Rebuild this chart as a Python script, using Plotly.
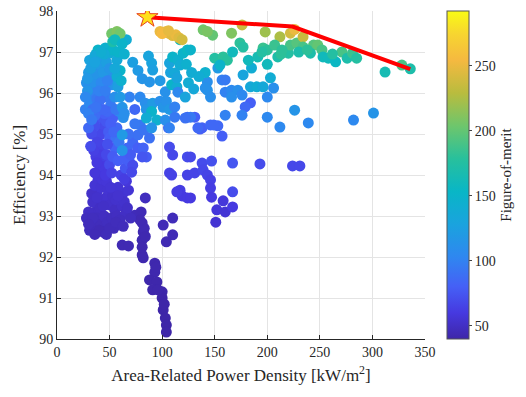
import plotly.graph_objects as go

# ---- data: (power density kW/m^2, efficiency %, figure-of-merit) ----
left_upper = [(39,97.05,150),(46,97.1,145),(50,96.97,140),(53,97.05,150),(36,96.9,135),(43,96.85,130),
              (34,96.65,125),(40,96.7,120),(47,96.75,125),(33,96.4,120),(38,96.45,115),(44,96.5,118),
              (31,96.15,110),(36,96.2,112),(42,96.25,105),(30,95.95,110),(35,96.0,100),(31,95.75,105),
              (38,95.85,95),(34,95.6,90),(41,95.83,90),(44,95.6,85),(29,96.05,115),(32,96.6,125),
              (48,96.3,100),(50,96.6,115),(27,95.9,105),(30,95.5,100),(33,95.35,95),(36,96.75,128),
              (45,96.95,138),(42,97.0,142),(29,96.35,118),(40,96.05,100),(46,96.05,98),(37,95.65,92)]
left_fill = [(31,96.8,128),(35,96.55,122),(39,96.3,112),(43,96.1,100),(47,95.9,95),(51,95.7,95),
             (55,95.9,110),(52,96.2,112),(55,96.35,125),(49,96.45,110),(45,96.35,108),(37,96.95,140),
             (41,96.55,118),(33,96.25,115),(28,96.25,112),(30,96.5,120),(27,95.6,100),(32,95.85,100),
             (36,95.45,88),(40,95.6,88),(48,95.55,85),(51,95.25,80),(54,95.05,85),(59,94.8,95),
             (59,95.55,105),(56,95.6,95)]
cyan_column = [(52,97.45,205),(57,97.5,210),(60,97.45,205),(53,97.25,170),(57,96.8,135),(60,96.55,150),
               (57,96.4,140),(58,96.15,125),(60,95.9,120),(62,95.65,115),(63,95.4,110),(62,94.98,120),
               (62,94.6,115),(58,97.0,150),(55,96.6,135),(61,96.3,145),(64,95.5,110),(55,97.3,160),
               (62,97.2,150),(64,96.95,145)]
mid_upper = [(66,97.3,140),(72,96.75,125),(77,96.55,120),(81,96.35,115),(87,96.9,130),(90,96.73,128),
             (91,96.56,125),(98,96.3,118),(88,96.27,115),(103,96.03,112),(107,96.73,130),(108,96.5,128),
             (109,96.2,150),(114,96.15,140),(79,95.9,105),(84,95.75,110),(85,95.6,115),(91,95.75,120),
             (98,95.8,110),(101,95.65,115),(104,95.8,112),(107,95.6,118),(90,95.55,150),(74,95.6,85),
             (69,95.9,100),(85,95.39,140),(95,95.34,145),(103,95.34,110),(107,95.15,100),(90,95.15,115),
             (110,96.88,150),(115,96.8,145),(117,96.68,140),(112,96.49,135),(120,96.97,150),(124,97.05,155),
             (127,97.05,150),(114,96.37,130),(115,96.02,105),(112,95.66,100),(112,95.41,95),(117,97.3,160),
             (123,96.7,145),(128,96.5,140),(125,96.25,140),(130,96.1,135),(122,95.9,130),(135,96.4,140)]
orange_group = [(98,97.5,250),(101,97.48,252),(104,97.5,250),(107,97.45,248),(110,97.4,245),(113,97.42,250),
                (116,97.35,245),(119,97.3,240),(100,97.45,255),(106,97.52,248)]
left_lower = [(41,95.39,75),(43,95.15,70),(41,94.98,68),(44,94.73,65),(41,94.49,62),(44,94.2,60),
              (36,95.2,72),(33,95.0,70),(38,94.8,66),(35,94.6,64),(38,94.3,60),(36,94.05,58),
              (47,95.3,75),(49,95.05,78),(53,95.39,80),(57,95.15,85),(50,94.9,80),(55,94.66,82),
              (47,94.5,68),(50,94.25,70),(53,94.45,78),(56,94.9,90),(45,95.5,80),(30,95.15,85),
              (32,94.7,70),(46,94.0,60),(52,94.05,65),(58,94.35,80),(48,94.75,72)]
lower_fill = [(37,94.45,62),(42,94.65,65),(45,94.35,64),(40,94.1,60),(43,93.9,57),(47,93.85,57),
              (51,93.7,56),(56,93.4,53),(44,93.25,51),(38,93.45,53),(34,92.95,48),(50,92.7,46),
              (56,92.85,47),(64,93.35,53),(67,93.2,51),(63,92.75,47),(30,92.8,47),(36,92.55,45),
              (58,93.5,54),(61,94.0,65),(64,93.9,62)]
mid_lower = [(65,94.17,75),(69,94.32,80),(67,94.66,85),(72,94.8,85),(77,94.98,90),(79,95.22,95),
             (77,94.66,80),(82,94.66,82),(85,94.44,78),(81,94.44,75),(88,94.9,90),(72,94.24,70),
             (71,94.07,68),(68,95.0,90),(74,95.25,95),(83,95.1,92),(64,94.4,80),(70,94.5,78)]
bottom_left = [(39,93.88,58),(38,93.59,55),(39,93.34,52),(36,93.1,50),(34,93.34,52),(46,93.44,54),
               (41,93.2,50),(50,93.27,52),(63,93.56,55),(68,93.63,56),(60,93.34,52),(55,93.15,50),
               (32,92.9,48),(35,92.75,47),(31,92.65,46),(38,92.95,48),(42,92.8,47),(45,93.0,49),
               (48,92.85,48),(52,92.95,48),(57,93.0,49),(44,92.61,45),(33,93.55,52),(30,93.1,50),
               (36,93.75,56),(42,93.7,55),(48,93.65,55),(53,93.5,53),(58,93.7,56),(62,93.25,52),
               (65,93.05,50),(60,92.9,48),(54,92.7,46),(40,92.65,45),(28,92.95,48),(62,92.29,44),
               (68,92.27,44),(47,92.55,46),(70,92.95,48),(66,93.85,58)]
tail = [(84,93.44,48),(74,93.02,46),(81,92.83,44),(82,92.61,43),(81,92.41,43),(81,92.24,42),
        (81,92.05,42),(82,91.98,42),(83,92.7,44),(80,93.1,45),(84,92.5,43),(93,91.85,42),
        (93,91.63,42),(88,91.44,41),(95,91.39,41),(91,91.2,41),(100,91.15,41),(100,91.0,40),
        (101,90.71,40),(103,90.51,40),(104,90.34,40),(104,90.17,40),(94,91.75,42),(96,91.2,41),
        (102,90.85,40),(101,92.78,45),(110,92.95,46),(110,92.54,45),(104,92.37,44),(79,92.9,44)]
right_low = [(107,94.68,70),(110,94.49,68),(124,94.44,70),(107,94.05,65),(124,94.0,65),(131,94.05,66),
             (138,94.29,70),(117,93.63,62),(119,93.49,60),(124,93.44,60),(106,95.15,85),(124,95.41,85),
             (131,95.41,80),(138,95.15,82),(136,95.12,80),(146,95.22,85),(153,95.2,85),(157,94.95,80),
             (147,94.34,72),(167,94.29,75),(193,94.27,70),(224,94.22,68),(231,94.22,68),(139,94.12,68),
             (143,94.0,66),(146,93.88,64),(146,93.68,62),(167,93.59,70),(147,93.46,60),(158,93.37,58),
             (152,93.15,58),(160,93.1,56),(167,93.22,60),(151,92.85,55),(127,94.44,68),(127,93.44,60),
             (114,93.59,62),(109,94.0,65)]
right_mid = [(153,96.61,120),(143,96.27,110),(143,96.07,115),(141,96.12,112),(157,96.32,100),(160,96.32,95),
             (146,95.9,110),(160,96.02,100),(166,96.07,105),(172,96.07,110),(177,96.44,130),(185,96.61,140),
             (184,96.15,135),(190,96.15,140),(196,96.15,135),(203,96.37,140),(206,96.12,110),(176,95.95,105),
             (166,95.9,110),(200,95.9,105),(184,95.76,80),(179,95.66,85),(160,95.46,100),(176,95.46,100),
             (200,95.41,105),(226,95.58,115),(212,95.17,105),(239,95.27,105),(282,95.34,105),(301,95.51,115),
             (149,95.22,85),(127,95.41,95),(122,95.39,90),(134,95.15,85),(141,96.5,145),(150,96.85,175)]
top_band = [(139,97.54,205),(148,97.41,200),(143,97.5,208),(166,97.46,210),(176,97.66,235),(198,97.49,220),
            (212,97.37,225),(222,97.46,240),(226,97.55,250),(174,97.22,180),(177,97.12,175),(158,96.88,180),
            (162,96.8,178),(167,97.0,160),(182,96.8,160),(191,96.88,165),(196,97.1,185),(200,97.05,180),
            (210,96.88,170),(220,96.97,175),(222,97.17,190),(228,97.22,195),(234,97.37,235),(234,97.12,190),
            (244,97.17,195),(248,97.17,200),(252,97.05,190),(241,96.97,170),(253,96.88,160),(258,96.85,160),
            (265,96.76,155),(271,97.0,190),(276,96.85,170),(281,96.97,185),(312,96.51,165),(328,96.68,190),
            (336,96.59,170),(230,97.0,170),(238,97.05,180),(262,96.95,175),(285,96.85,175),(200,96.7,160),
            (213,96.95,180),(195,97.0,175),(207,97.17,185),(214,97.05,180),(155,96.68,150)]

# Pareto front
front_x = [86, 224, 336]
front_y = [97.85, 97.62, 96.58]

clusters = [tail, bottom_left, lower_fill, left_lower, mid_lower, right_low, left_fill, left_upper,
            right_mid, mid_upper, cyan_column, top_band, orange_group]
xs, ys, cs = [], [], []
for cl in clusters:
    for x, y, c in cl:
        xs.append(x); ys.append(y); cs.append(c)

parula = [
    [0.00, "#3e26a8"], [0.08, "#4639e0"], [0.16, "#4560f6"], [0.25, "#2f87f0"],
    [0.35, "#1aa3de"], [0.45, "#09b6c6"], [0.55, "#28c09c"], [0.65, "#6ec66c"],
    [0.75, "#b9bc3e"], [0.85, "#f5b940"], [0.93, "#f7d530"], [1.00, "#f9fb15"],
]

FONT = "Liberation Serif"
fig = go.Figure()
fig.add_trace(go.Scatter(
    x=xs, y=ys, mode="markers",
    marker=dict(size=11, color=cs, colorscale=parula, cmin=40, cmax=292,
                line=dict(width=0),
                colorbar=dict(thickness=22, len=1.0, lenmode="fraction", y=0.5, yanchor="middle",
                              x=1.06, xanchor="left", xpad=0, ypad=0,
                              outlinecolor="#555", outlinewidth=1,
                              tickvals=[50, 100, 150, 200, 250], ticks="outside", ticklen=3,
                              tickfont=dict(family=FONT, size=14, color="#262626"),
                              title=dict(text="Figure-of-merit", side="right",
                                         font=dict(family=FONT, size=15, color="#262626")))),
    showlegend=False, hoverinfo="skip"))
fig.add_trace(go.Scatter(x=front_x, y=front_y, mode="lines",
                         line=dict(color="#ff0000", width=4), showlegend=False, hoverinfo="skip"))
fig.add_trace(go.Scatter(x=front_x[:1], y=front_y[:1], mode="markers",
                         marker=dict(symbol="star", size=16, color="#ffe01a",
                                     line=dict(color="#e8401c", width=1)),
                         showlegend=False, hoverinfo="skip"))

axis_common = dict(showgrid=True, gridcolor="#e4e4e4", gridwidth=1, zeroline=False, automargin=False,
                   showline=True, linecolor="#262626", linewidth=1, ticks="inside", ticklen=4,
                   tickcolor="#262626", tickfont=dict(family=FONT, size=14, color="#262626"))
fig.update_layout(
    width=526, height=397, margin=dict(l=57, r=101, t=11, b=58),
    paper_bgcolor="white", plot_bgcolor="white",
    xaxis=dict(range=[0, 350], dtick=50, tick0=0,
               title=dict(text="Area-Related Power Density [kW/m<sup>2</sup>]", standoff=10,
                          font=dict(family=FONT, size=17, color="#262626")), **axis_common),
    yaxis=dict(range=[90, 98], dtick=1, tick0=90,
               title=dict(text="Efficiency [%]", standoff=9,
                          font=dict(family=FONT, size=17, color="#262626")), **axis_common),
)
# remove the default 8px page margin so the figure fills the window exactly
fig.write_html("out.html", config={"displayModeBar": False},
               post_script="document.body.style.margin='0px';")
